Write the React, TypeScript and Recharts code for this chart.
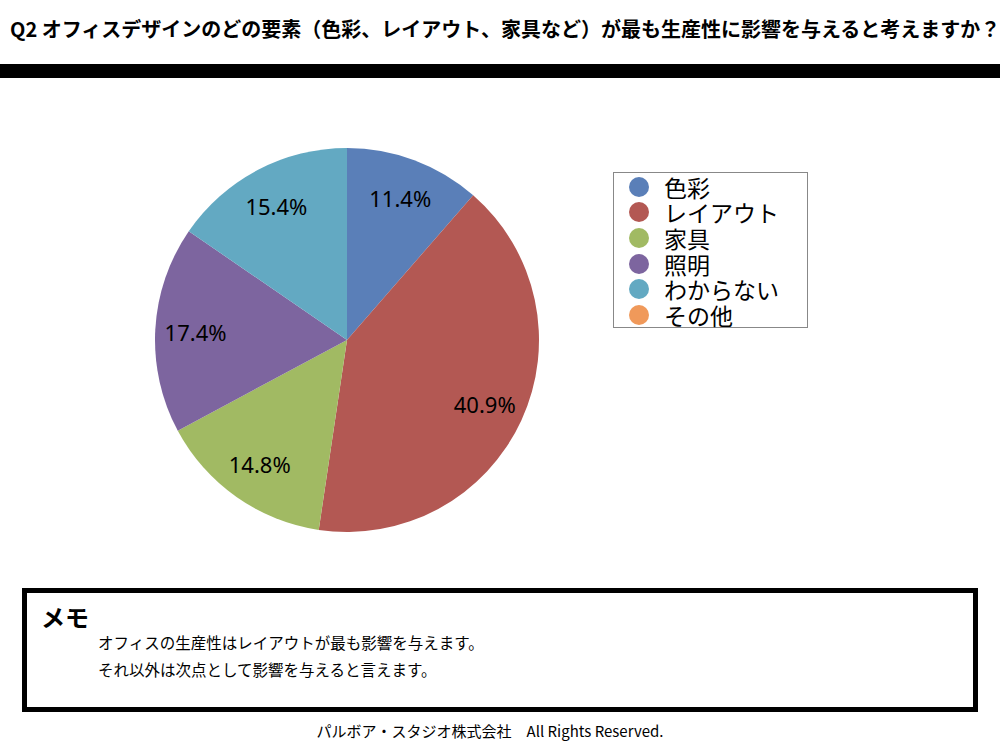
import React from 'react';
import { PieChart, Pie, Cell, Legend } from 'recharts';

const categories = ['色彩', 'レイアウト', '家具', '照明', 'わからない', 'その他'];
const shares = [11.4, 40.9, 14.8, 17.4, 15.4, 0];
const colors = ['#5A7FB8', '#B35853', '#A1BA63', '#7D659F', '#63A9C2', '#F0995A'];

const data = categories.map((name, i) => ({ name, value: shares[i] }));

const RADIAN = Math.PI / 180;
const jp = '"Noto Sans CJK JP", "Noto Sans", sans-serif';

const renderLabel = (props: any) => {
  const { cx, cy, midAngle, outerRadius, value } = props;
  if (!value) return null;
  const r = outerRadius * 0.79;
  const x = cx + r * Math.cos(-midAngle * RADIAN);
  const y = cy + r * Math.sin(-midAngle * RADIAN);
  return (
    <text
      x={x}
      y={y}
      textAnchor="middle"
      dominantBaseline="central"
      fill="#000"
      style={{ fontFamily: '"Noto Sans", sans-serif', fontSize: 22 }}
    >
      {value.toFixed(1)}%
    </text>
  );
};

const LegendBox = () => (
  <div
    style={{
      width: 195,
      height: 156,
      border: '1px solid #888',
      background: '#fff',
      boxSizing: 'border-box',
      paddingTop: 1,
    }}
  >
    {categories.map((c, i) => (
      <div key={c} style={{ display: 'flex', alignItems: 'center', height: 25.6 }}>
        <span
          style={{
            display: 'inline-block',
            width: 20,
            height: 20,
            borderRadius: '50%',
            background: colors[i],
            marginLeft: 15,
            marginRight: 15,
          }}
        />
        <span style={{ fontFamily: jp, fontSize: 23, lineHeight: '24px', color: '#000' }}>{c}</span>
      </div>
    ))}
  </div>
);

export default function App() {
  return (
    <div
      style={{
        position: 'absolute',
        left: 0,
        top: 0,
        width: 1000,
        height: 746,
        background: '#fff',
        overflow: 'hidden',
        fontFamily: jp,
      }}
    >
      <div
        style={{
          position: 'absolute',
          left: 10,
          top: 16,
          height: 26,
          lineHeight: '26px',
          fontSize: 20,
          fontWeight: 700,
          whiteSpace: 'nowrap',
          color: '#000',
        }}
      >
        Q2 オフィスデザインのどの要素（色彩、レイアウト、家具など）が最も生産性に影響を与えると考えますか？
      </div>
      <div style={{ position: 'absolute', left: 0, top: 64, width: 1000, height: 14, background: '#000' }} />

      <div style={{ position: 'absolute', left: 0, top: 0 }}>
        <PieChart width={1000} height={560} margin={{ top: 0, right: 0, bottom: 0, left: 0 }}>
          <Pie
            data={data}
            dataKey="value"
            nameKey="name"
            cx={347}
            cy={340}
            outerRadius={192}
            startAngle={90}
            endAngle={-270}
            stroke="none"
            label={renderLabel}
            labelLine={false}
            isAnimationActive={false}
          >
            {data.map((d, i) => (
              <Cell key={d.name} fill={colors[i]} />
            ))}
          </Pie>
          <Legend
            content={() => <LegendBox />}
            wrapperStyle={{ position: 'absolute', left: 613, top: 172, width: 195, height: 156 }}
          />
        </PieChart>
      </div>

      <div
        style={{
          position: 'absolute',
          left: 22,
          top: 588,
          width: 956,
          height: 124,
          border: '5px solid #000',
          boxSizing: 'border-box',
        }}
      >
        <div
          style={{
            position: 'absolute',
            left: 14,
            top: 10,
            fontSize: 24,
            fontWeight: 700,
            lineHeight: '28px',
          }}
        >
          メモ
        </div>
        <div style={{ position: 'absolute', left: 71, top: 36, fontSize: 15.5, lineHeight: '27px' }}>
          <div>オフィスの生産性はレイアウトが最も影響を与えます。</div>
          <div>それ以外は次点として影響を与えると言えます。</div>
        </div>
      </div>

      <div
        style={{
          position: 'absolute',
          left: 0,
          top: 720,
          width: 980,
          textAlign: 'center',
          fontSize: 15,
          lineHeight: '22px',
          whiteSpace: 'pre',
        }}
      >
        {'パルボア・スタジオ株式会社　All Rights Reserved.'}
      </div>
    </div>
  );
}
